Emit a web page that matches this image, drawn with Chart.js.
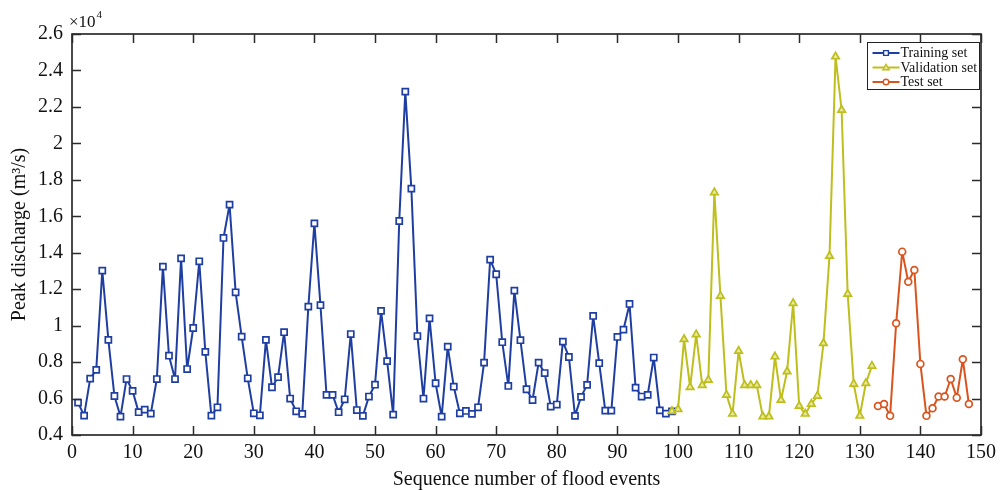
<!DOCTYPE html>
<html>
<head>
<meta charset="utf-8">
<script src="https://cdn.jsdelivr.net/npm/chart.js@4"></script>
<style>
  html, body { margin: 0; padding: 0; background: #fff; }
  #wrap { width: 1002px; height: 490px; }
</style>
</head>
<body>
<div id="wrap"><canvas id="c" width="1002" height="490"></canvas></div>
<script>
// ---- data (peak discharge in units of 10^4 m3/s) ----
const seriesNames = ['Training set', 'Validation set', 'Test set'];
const trainingFirstEvent = 1;
const validationFirstEvent = 99;
const testFirstEvent = 133;

const trainingValues = [
  0.578, 0.506, 0.709, 0.757, 1.302, 0.922, 0.614, 0.501, 0.707, 0.642,
  0.525, 0.539, 0.517, 0.707, 1.324, 0.835, 0.707, 1.369, 0.762, 0.987,
  1.353, 0.856, 0.506, 0.552, 1.481, 1.664, 1.183, 0.940, 0.711, 0.519,
  0.508, 0.922, 0.662, 0.717, 0.964, 0.600, 0.530, 0.516, 1.104, 1.561,
  1.112, 0.620, 0.620, 0.525, 0.596, 0.954, 0.537, 0.505, 0.611, 0.676,
  1.081, 0.805, 0.512, 1.574, 2.284, 1.752, 0.943, 0.600, 1.040, 0.684,
  0.501, 0.885, 0.665, 0.519, 0.532, 0.516, 0.552, 0.797, 1.362, 1.282,
  0.909, 0.669, 1.192, 0.920, 0.651, 0.592, 0.797, 0.740, 0.556, 0.567,
  0.912, 0.828, 0.505, 0.609, 0.675, 1.053, 0.794, 0.534, 0.534, 0.938,
  0.978, 1.119, 0.660, 0.611, 0.620, 0.825, 0.535, 0.517, 0.530
];
const validationValues = [
  0.530, 0.541, 0.925, 0.662, 0.952, 0.673, 0.702, 1.731, 1.163, 0.620,
  0.516, 0.861, 0.673, 0.673, 0.673, 0.501, 0.501, 0.830, 0.592, 0.748,
  1.123, 0.559, 0.516, 0.570, 0.614, 0.903, 1.382, 2.476, 2.183, 1.174,
  0.680, 0.505, 0.684, 0.779
];
const testValues = [
  0.559, 0.570, 0.505, 1.013, 1.406, 1.241, 1.305, 0.790, 0.505, 0.547,
  0.611, 0.611, 0.707, 0.605, 0.815, 0.570
];

const xTickValues = [0, 10, 20, 30, 40, 50, 60, 70, 80, 90, 100, 110, 120, 130, 140, 150];
const yTickValues = [0.4, 0.6, 0.8, 1.0, 1.2, 1.4, 1.6, 1.8, 2.0, 2.2, 2.4, 2.6];
const yTickLabels = ['0.4', '0.6', '0.8', '1', '1.2', '1.4', '1.6', '1.8', '2', '2.2', '2.4', '2.6'];
const xTitle = 'Sequence number of flood events';
const yTitle = 'Peak discharge (m\u00B3/s)';
const yMultiplierBase = '\u00D710';
const yMultiplierExp = '4';

// ---- build ----
function toPoints(first, vals) { return vals.map((v, i) => ({ x: first + i, y: v })); }

const colors = ['#1f3ea2', '#bebe1c', '#d9541e'];
const shapes = ['rect', 'triangle', 'circle'];
const radii = [4.3, 4.3, 3.4];
const fills = ['#ffffff', 'rgba(232,232,160,1)', '#ffffff'];
const FONT = "'Liberation Serif', 'Times New Roman', serif";

const datasets = [
  toPoints(trainingFirstEvent, trainingValues),
  toPoints(validationFirstEvent, validationValues),
  toPoints(testFirstEvent, testValues)
].map((pts, k) => ({
  label: seriesNames[k],
  data: pts,
  borderColor: colors[k],
  backgroundColor: '#ffffff',
  borderWidth: 2,
  borderJoinStyle: 'round',
  borderCapStyle: 'round',
  pointStyle: shapes[k],
  pointRadius: radii[k],
  pointBorderWidth: 1.7,
  pointBorderColor: colors[k],
  pointBackgroundColor: fills[k],
  tension: 0,
  order: 3 - k
}));

const framePlugin = {
  id: 'frame',
  afterDatasetsDraw(chart) {
    const { ctx, chartArea: a, scales } = chart;
    const xs = scales.x, ys = scales.y;
    ctx.save();
    ctx.strokeStyle = '#2b2b2b';
    ctx.lineWidth = 1.7;
    ctx.strokeRect(a.left, a.top, a.right - a.left, a.bottom - a.top);
    const tl = 9;
    ctx.lineWidth = 1.5;
    ctx.beginPath();
    xs.ticks.forEach(t => {
      const px = Math.round(xs.getPixelForValue(t.value)) + 0.5;
      ctx.moveTo(px, a.bottom); ctx.lineTo(px, a.bottom - tl);
      ctx.moveTo(px, a.top); ctx.lineTo(px, a.top + tl);
    });
    ys.ticks.forEach(t => {
      const py = Math.round(ys.getPixelForValue(t.value)) + 0.5;
      ctx.moveTo(a.left, py); ctx.lineTo(a.left + tl, py);
      ctx.moveTo(a.right, py); ctx.lineTo(a.right - tl, py);
    });
    ctx.stroke();

    // multiplier label
    ctx.fillStyle = '#111';
    ctx.textBaseline = 'alphabetic';
    ctx.textAlign = 'left';
    ctx.font = '17px ' + FONT;
    ctx.fillText(yMultiplierBase, a.left - 3, a.top - 7);
    const w = ctx.measureText(yMultiplierBase).width;
    ctx.font = '11px ' + FONT;
    ctx.fillText(yMultiplierExp, a.left - 3 + w + 1, a.top - 16);

    // legend
    const bx = 867.5, by = 42.5, bw = 112, bh = 47;
    ctx.fillStyle = '#fff';
    ctx.fillRect(bx, by, bw, bh);
    ctx.strokeStyle = '#222';
    ctx.lineWidth = 1;
    ctx.strokeRect(bx, by, bw, bh);
    ctx.font = '14px ' + FONT;
    ctx.textBaseline = 'middle';
    chart.data.datasets.forEach((ds, k) => {
      const cy = by + 10.5 + k * 14.5;
      const mx = bx + 18.5;
      ctx.strokeStyle = ds.borderColor;
      ctx.lineWidth = 2;
      ctx.beginPath();
      ctx.moveTo(bx + 5, cy); ctx.lineTo(bx + 32, cy);
      ctx.stroke();
      ctx.fillStyle = ds.pointBackgroundColor;
      ctx.lineWidth = 1.4;
      ctx.beginPath();
      const r = k === 2 ? 2.8 : 3.2;
      if (k === 0) { ctx.rect(mx - r * 0.75, cy - r * 0.75, r * 1.5, r * 1.5); }
      else if (k === 1) { ctx.moveTo(mx, cy - r); ctx.lineTo(mx + r, cy + r * 0.7); ctx.lineTo(mx - r, cy + r * 0.7); ctx.closePath(); }
      else { ctx.arc(mx, cy, r, 0, Math.PI * 2); }
      ctx.fill(); ctx.stroke();
      ctx.fillStyle = '#111';
      ctx.fillText(ds.label, bx + 33, cy + 0.5);
    });
    ctx.restore();
  }
};

new Chart(document.getElementById('c'), {
  type: 'line',
  data: { datasets },
  options: {
    responsive: false,
    animation: false,
    layout: { padding: { top: 34, right: 15, left: 0, bottom: 0 } },
    plugins: { legend: { display: false }, tooltip: { enabled: false } },
    scales: {
      x: {
        type: 'linear', min: 0, max: 150,
        afterBuildTicks: s => { s.ticks = xTickValues.map(v => ({ value: v })); },
        afterFit: s => { s.height = 55; },
        grid: { display: false, drawTicks: false },
        border: { display: false },
        ticks: { color: '#111', font: { family: FONT, size: 20 }, padding: 6, maxRotation: 0, autoSkip: false,
                 callback: v => String(v) },
        title: { display: true, text: xTitle, color: '#111', font: { family: FONT, size: 20, lineHeight: 1.0 }, padding: { top: 0, bottom: 0 } }
      },
      y: {
        type: 'linear', min: 0.4, max: 2.6,
        afterBuildTicks: s => { s.ticks = yTickValues.map(v => ({ value: v })); },
        afterFit: s => { s.width = 72; },
        grid: { display: false, drawTicks: false },
        border: { display: false },
        ticks: { color: '#111', font: { family: FONT, size: 20 }, padding: 9, autoSkip: false,
                 callback: (v) => { const i = yTickValues.findIndex(t => Math.abs(t - v) < 1e-9); return i >= 0 ? yTickLabels[i] : ''; } },
        title: { display: true, text: yTitle, color: '#111', font: { family: FONT, size: 20, lineHeight: 1.2 }, padding: { top: 8, bottom: 0 } }
      }
    }
  },
  plugins: [framePlugin]
});
</script>
</body>
</html>
